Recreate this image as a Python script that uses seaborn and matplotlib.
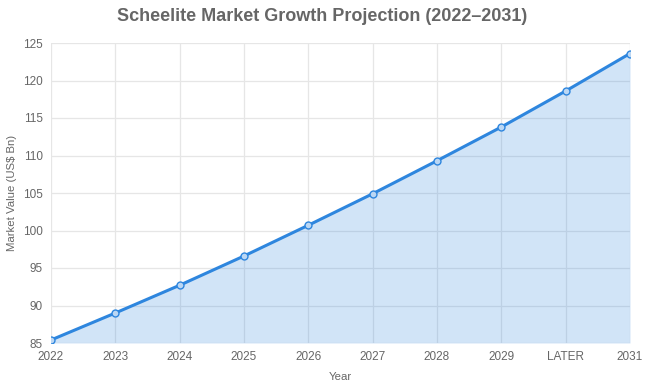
import seaborn as sns
import matplotlib.pyplot as plt
import pandas as pd

years = ['2022', '2023', '2024', '2025', '2026', '2027', '2028', '2029', 'LATER', '2031']
market_value = [85.4, 89.0, 92.7, 96.6, 100.7, 104.9, 109.3, 113.8, 118.6, 123.6]

df = pd.DataFrame({'Year': years, 'Value': market_value})

sns.set_style('white')
plt.rcParams['font.family'] = ['Liberation Sans', 'DejaVu Sans']

line_color = '#2E86DE'
grid_color = '#E6E6E6'
text_color = '#666666'

fig = plt.figure(figsize=(6.45, 3.88), dpi=100)
ax = fig.add_axes([51 / 645, 1 - 343 / 388, (630 - 51) / 645, (343 - 43) / 388])

pos = list(range(len(years)))
ax.grid(True, color=grid_color, linewidth=0.9, zorder=0)
ax.set_axisbelow(True)
ax.fill_between(pos, df['Value'], 85, color=line_color, alpha=0.22, zorder=1, linewidth=0)
sns.lineplot(x=pos, y=df['Value'], ax=ax, color=line_color, linewidth=2.2,
             marker='o', markersize=5, markerfacecolor='#BBD7F4',
             markeredgecolor=line_color, markeredgewidth=1.0, zorder=3)

ax.set_xlim(0, len(years) - 1)
ax.set_ylim(85, 125)
ax.set_yticks(range(85, 126, 5))
ax.set_xticks(pos)
ax.set_xticklabels(years)
for s in ax.spines.values():
    s.set_visible(False)
ax.tick_params(axis='both', colors=text_color, labelsize=8.5, length=0, pad=6)

ax.set_xlabel('Year', color=text_color, fontsize=8.2, labelpad=6)
ax.set_ylabel('Market Value (US$ Bn)', color=text_color, fontsize=8.2, labelpad=4)
fig.suptitle('Scheelite Market Growth Projection (2022–2031)', x=0.5, y=0.98,
             fontsize=13, fontweight='bold', color=text_color)

fig.savefig('out.png', dpi=100)
